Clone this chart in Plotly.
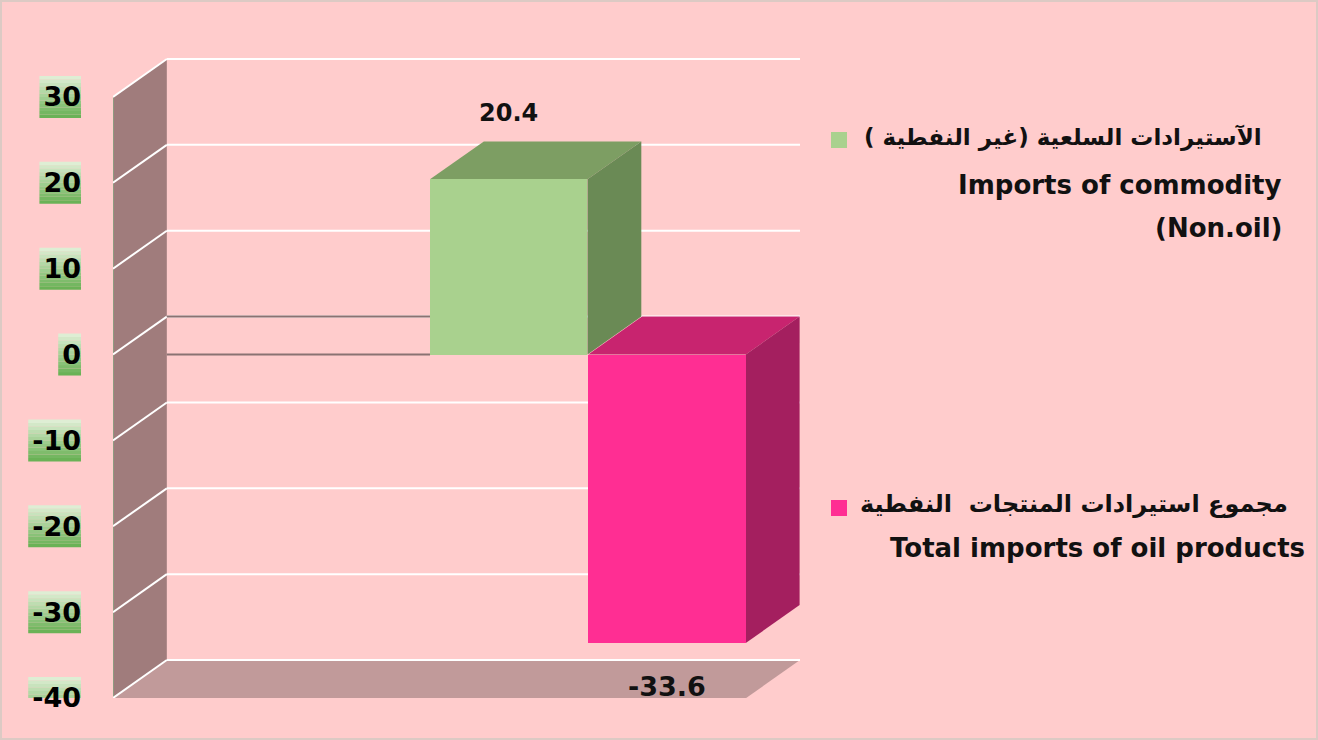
import plotly.graph_objects as go

# ---------------- data ----------------
categories = ["Imports of commodity (Non.oil)", "Total imports of oil products"]
values = [20.4, -33.6]
value_labels = ["20.4", "-33.6"]
tick_values = [-40, -30, -20, -10, 0, 10, 20, 30]
tick_labels = ["-40", "-30", "-20", "-10", "0", "10", "20", "30"]
legend_ar = ["الآستيرادات السلعية (غير النفطية )", "مجموع استيرادات المنتجات  النفطية"]
legend_en = [["Imports of commodity", "(Non.oil)"], ["Total imports of oil products"]]

# ---------------- style ----------------
W, H = 1318, 740
L, R, T, B = 113, 800, 54, 698          # plot area in pixels
PW, PH = R - L, B - T
BG = "#ffcccc"
FONT = "DejaVu Sans"
front_cols = ["#a9d18e", "#ff2e93"]
top_cols = ["#7d9e63", "#c8246f"]
side_cols = ["#6a8a55", "#a41f5f"]
WALL = "#a07c7c"
FLOOR = "#c19a9a"
GRID = "#ffffff"
ZERO = "#8a7272"
DX, DY = 0.34, 4.42                      # 3-D depth offsets (axis units)
Y_MIN, Y_MAX = -40, 35
X_MIN = -2.5
n = len(categories)
xs = list(range(n))
X_MAX = n - 0.5 + DX
BW = 0.995


def xp(px):
    return (px - L) / PW


def yp(py):
    return (B - py) / PH


def poly(pts):
    return "M " + " L ".join(f"{x},{y}" for x, y in pts) + " Z"


shapes = []
# side wall
wall_top = max(tick_values)
wall_bot = min(tick_values)
shapes.append(dict(type="path", xref="x", yref="y", layer="below",
                   path=poly([(X_MIN, wall_bot), (X_MIN, wall_top),
                              (X_MIN + DX, wall_top + DY), (X_MIN + DX, wall_bot + DY)]),
                   fillcolor=WALL, line=dict(width=0)))
# floor
shapes.append(dict(type="path", xref="x", yref="y", layer="below",
                   path=poly([(X_MIN, wall_bot), (n - 0.5, wall_bot),
                              (n - 0.5 + DX, wall_bot + DY), (X_MIN + DX, wall_bot + DY)]),
                   fillcolor=FLOOR, line=dict(width=0)))
# wall front edge
shapes.append(dict(type="line", xref="x", yref="y", layer="below",
                   x0=X_MIN, x1=X_MIN, y0=wall_bot, y1=wall_top,
                   line=dict(color="#8f9a80", width=2)))
# gridlines: back wall + side wall diagonals
for v in tick_values:
    shapes.append(dict(type="line", xref="x", yref="y", layer="below",
                       x0=X_MIN + DX, x1=X_MAX, y0=v + DY, y1=v + DY,
                       line=dict(color=GRID, width=2)))
    shapes.append(dict(type="line", xref="x", yref="y", layer="below",
                       x0=X_MIN, x1=X_MIN + DX, y0=v, y1=v + DY,
                       line=dict(color=GRID, width=2)))
# zero lines
shapes.append(dict(type="line", xref="x", yref="y", layer="below",
                   x0=X_MIN + DX, x1=xs[0] - BW / 2, y0=DY, y1=DY,
                   line=dict(color=ZERO, width=2)))
shapes.append(dict(type="line", xref="x", yref="y", layer="below",
                   x0=X_MIN + DX, x1=xs[0] - BW / 2, y0=0, y1=0,
                   line=dict(color=ZERO, width=2)))
# bar top and side faces
for i, v in zip(xs, values):
    x0, x1 = i - BW / 2, i + BW / 2
    top, bot = max(v, 0), min(v, 0)
    shapes.append(dict(type="path", xref="x", yref="y", layer="below",
                       path=poly([(x0, top), (x1, top), (x1 + DX, top + DY), (x0 + DX, top + DY)]),
                       fillcolor=top_cols[i], line=dict(width=0)))
    shapes.append(dict(type="path", xref="x", yref="y", layer="below",
                       path=poly([(x1, bot), (x1, top), (x1 + DX, top + DY), (x1 + DX, bot + DY)]),
                       fillcolor=side_cols[i], line=dict(width=0)))

# tick label green gradient boxes
TFS = 27
char_w = {"-": 0.415, ".": 0.38}
label_right = 81
half_h = 21 / (PH / (Y_MAX - Y_MIN))
n_strips = 12
c_top = (222, 238, 212)
c_bot = (106, 178, 86)
for v, lab in zip(tick_values, tick_labels):
    w = sum(char_w.get(c, 0.696) for c in lab) * TFS + 4
    for k in range(n_strips):
        f = k / (n_strips - 1)
        col = tuple(int(c_top[j] + (c_bot[j] - c_top[j]) * f) for j in range(3))
        ya = v + half_h - 2 * half_h * k / n_strips
        yb = v + half_h - 2 * half_h * (k + 1) / n_strips
        shapes.append(dict(type="rect", xref="paper", yref="y", layer="below",
                           x0=xp(label_right - w), x1=xp(label_right), y0=yb, y1=ya,
                           fillcolor="rgb(%d,%d,%d)" % col, line=dict(width=0)))

# legend squares
sq_cy = [140, 508]
for i, cy in enumerate(sq_cy):
    shapes.append(dict(type="rect", xref="paper", yref="paper",
                       x0=xp(831), x1=xp(847), y0=yp(cy + 8), y1=yp(cy - 8),
                       fillcolor=front_cols[i], line=dict(width=0)))

# outer frame
shapes.append(dict(type="rect", xref="paper", yref="paper",
                   x0=xp(1), x1=xp(W - 1), y0=yp(H - 1), y1=yp(1),
                   line=dict(color="#dccac4", width=2), fillcolor="rgba(0,0,0,0)"))

fig = go.Figure()
fig.add_trace(go.Bar(x=xs, y=values, width=BW, marker=dict(color=front_cols, line=dict(width=0)),
                     hovertext=categories, showlegend=False))

annotations = []
# value labels
annotations.append(dict(x=xs[0], y=values[0] + DY, xref="x", yref="y", text=value_labels[0],
                        showarrow=False, yanchor="bottom", yshift=12,
                        font=dict(family=FONT, size=24, color="#111111", weight="bold")))
annotations.append(dict(x=xs[1], y=values[1], xref="x", yref="y", text=value_labels[1],
                        showarrow=False, yanchor="top", yshift=-26,
                        font=dict(family=FONT, size=27, color="#111111", weight="bold")))
# legend text
leg_font = dict(family=FONT, size=26, color="#111111", weight="bold")
ar_font1 = dict(family=FONT, size=23, color="#111111", weight="bold")
ar_font2 = dict(family=FONT, size=24, color="#111111", weight="bold")
annotations.append(dict(x=xp(1264), y=yp(137), xref="paper", yref="paper", text=legend_ar[0],
                        showarrow=False, xanchor="right", yanchor="middle", font=ar_font1))
annotations.append(dict(x=xp(1284), y=yp(185), xref="paper", yref="paper", text=legend_en[0][0],
                        showarrow=False, xanchor="right", yanchor="middle", font=leg_font))
annotations.append(dict(x=xp(1284), y=yp(228), xref="paper", yref="paper", text=legend_en[0][1],
                        showarrow=False, xanchor="right", yanchor="middle", font=leg_font))
annotations.append(dict(x=xp(1290), y=yp(504), xref="paper", yref="paper", text=legend_ar[1],
                        showarrow=False, xanchor="right", yanchor="middle", font=ar_font2))
annotations.append(dict(x=xp(1307), y=yp(548), xref="paper", yref="paper", text=legend_en[1][0],
                        showarrow=False, xanchor="right", yanchor="middle", font=leg_font))

fig.update_layout(
    width=W, height=H, autosize=False,
    margin=dict(l=L, r=W - R, t=T, b=H - B, pad=0),
    paper_bgcolor=BG, plot_bgcolor=BG,
    shapes=shapes, annotations=annotations,
    bargap=0, showlegend=False,
    xaxis=dict(range=[X_MIN, X_MAX], showgrid=False, zeroline=False, showline=False,
               showticklabels=False, ticks=""),
    yaxis=dict(range=[Y_MIN, Y_MAX], tickvals=tick_values, ticktext=tick_labels,
               showgrid=False, zeroline=False, showline=False, ticks="",
               ticklabelstandoff=31,
               tickfont=dict(family=FONT, size=TFS, color="#000000", weight="bold")),
)

fig.write_html("out.html", config={"displayModeBar": False},
               post_script="document.body.style.margin='0px';document.body.style.overflow='hidden';")
